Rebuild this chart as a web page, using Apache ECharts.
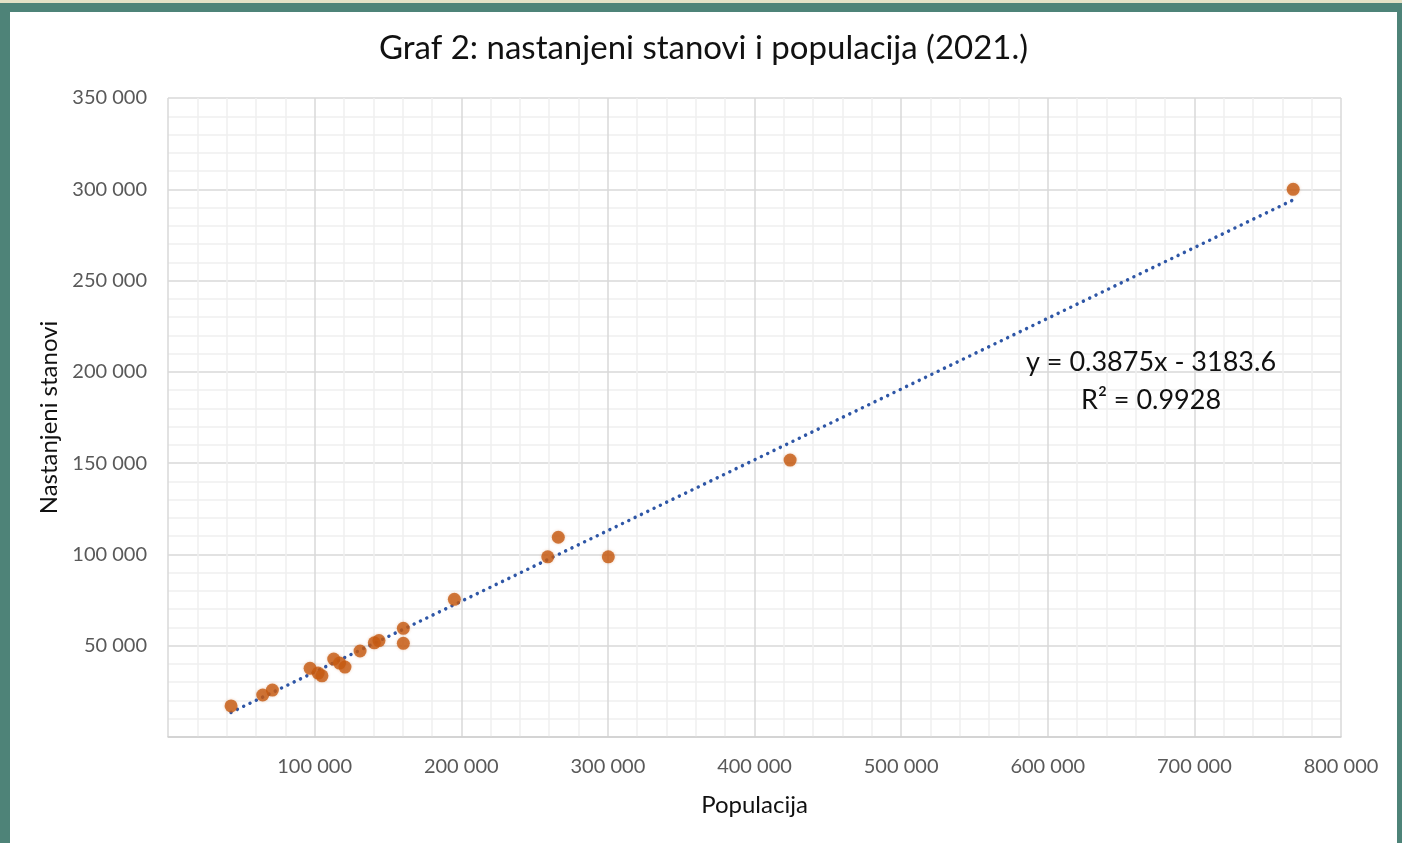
<!DOCTYPE html>
<html>
<head>
<meta charset="utf-8">
<script src="https://cdn.jsdelivr.net/npm/echarts@6/dist/echarts.min.js"></script>
<style>
  html, body { margin: 0; padding: 0; width: 1402px; height: 843px; overflow: hidden; background: #e4e1c6; }
  #frame { position: absolute; left: 0; top: 3px; width: 1402px; height: 840px; background: #4e8378; }
  #chart { position: absolute; left: 10px; top: 9px; width: 1387px; height: 831px; background: #fff; }
</style>
</head>
<body>
<div id="frame"><div id="chart"></div></div>
<script>
  // populacija (x) i nastanjeni stanovi (y), očitano s grafa
  const population = [43000, 64600, 71200, 96900, 102400, 105000, 113000, 117000, 120700, 131000,
    140700, 143900, 160500, 160500, 195300, 259000, 266200, 300300, 424300, 767400];
  const dwellings = [17000, 23000, 25700, 37600, 35000, 33500, 42700, 40500, 38300, 47100,
    51600, 52800, 59500, 51300, 75400, 98700, 109400, 98700, 151700, 300000];

  // linearni trend prikazan na grafu
  const trendSlope = 0.3875;
  const trendIntercept = -3183.6;
  const trendLabel = ['y = 0.3875x - 3183.6', 'R² = 0.9928'];

  const font = 'Lato, "Open Sans", sans-serif';
  const fmt = v => v === 0 ? '' : String(v).replace(/\B(?=(\d{3})+(?!\d))/g, ' ');

  const points = population.map((x, i) => [x, dwellings[i]]);
  const xMin = Math.min(...population), xMax = Math.max(...population);
  const trend = [[xMin, trendSlope * xMin + trendIntercept], [xMax, trendSlope * xMax + trendIntercept]];

  const chart = echarts.init(document.getElementById('chart'));
  chart.setOption({
    animation: false,
    title: {
      text: 'Graf 2: nastanjeni stanovi i populacija (2021.)',
      left: 'center', top: 15,
      textStyle: { fontFamily: font, fontSize: 33, fontWeight: 'normal', color: '#111' }
    },
    grid: { left: 158, right: 56, top: 86, bottom: 106 },
    xAxis: {
      type: 'value', min: 0, max: 800000, interval: 100000,
      name: 'Populacija', nameLocation: 'middle', nameGap: 56,
      nameTextStyle: { fontFamily: font, fontSize: 24, color: '#111' },
      axisLine: { show: true, lineStyle: { color: '#d0d0d0', width: 1.5 } },
      axisTick: { show: false },
      axisLabel: { formatter: fmt, fontFamily: font, fontSize: 20, color: '#595959', margin: 20 },
      splitLine: { show: true, lineStyle: { color: '#d9d9d9', width: 1.5 } },
      minorTick: { show: false, splitNumber: 5 },
      minorSplitLine: { show: true, lineStyle: { color: '#efefef', width: 1.5 } }
    },
    yAxis: {
      type: 'value', min: 0, max: 350000, interval: 50000,
      name: 'Nastanjeni stanovi', nameLocation: 'middle', nameGap: 104, nameRotate: 90,
      nameTextStyle: { fontFamily: font, fontSize: 24, color: '#111' },
      axisLine: { show: false },
      axisTick: { show: false },
      axisLabel: { formatter: fmt, fontFamily: font, fontSize: 20, color: '#595959', margin: 21 },
      splitLine: { show: true, lineStyle: { color: '#d9d9d9', width: 1.5 } },
      minorTick: { show: false, splitNumber: 5 },
      minorSplitLine: { show: true, lineStyle: { color: '#efefef', width: 1.5 } }
    },
    series: [
      {
        type: 'line', data: trend, symbol: 'none', silent: true,
        lineStyle: { color: '#2e56a6', width: 3.5, type: [0.01, 7], cap: 'round' },
        z: 2
      },
      {
        type: 'scatter', data: points, symbol: 'circle', symbolSize: 13,
        itemStyle: { color: '#c55a11', shadowBlur: 3, shadowColor: 'rgba(197,90,17,0.35)' },
        z: 3
      }
    ],
    graphic: [{
      type: 'text', left: 1016, top: 331, z: 100,
      style: {
        text: trendLabel.join('\n'), font: '27px ' + font, fill: '#111',
        stroke: null, lineWidth: 0, textAlign: 'center', lineHeight: 38
      }
    }]
  });
</script>
</body>
</html>
